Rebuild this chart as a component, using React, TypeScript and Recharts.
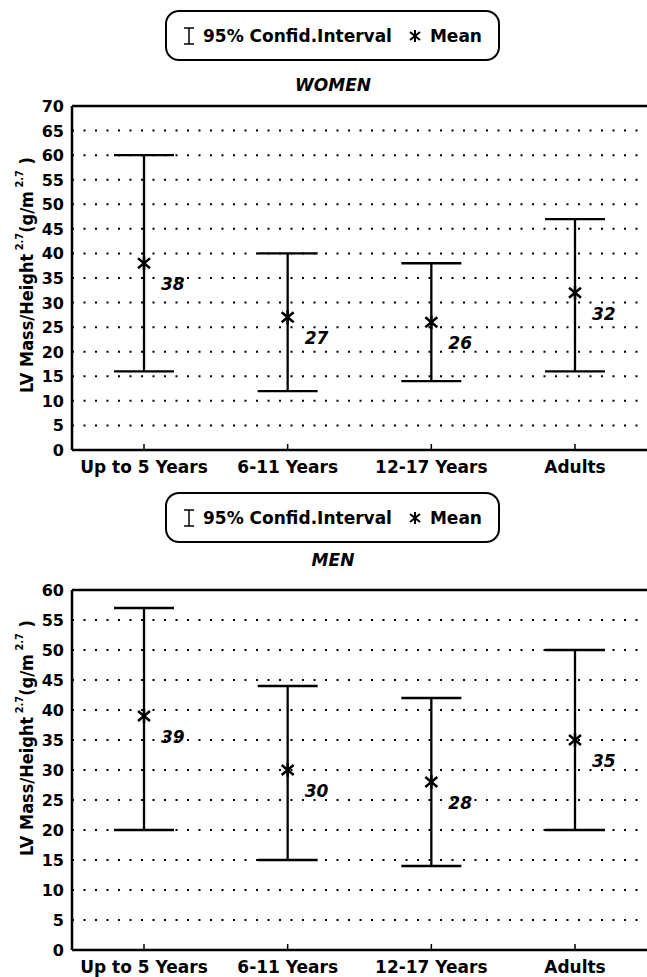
import React from "react";
import {
  ComposedChart,
  Scatter,
  ErrorBar,
  XAxis,
  YAxis,
  CartesianGrid,
  ReferenceLine,
} from "recharts";

const categories = ["Up to 5 Years", "6-11 Years", "12-17 Years", "Adults"];

const womenMean = [38, 27, 26, 32];
const womenLow = [16, 12, 14, 16];
const womenHigh = [60, 40, 38, 47];

const menMean = [39, 30, 28, 35];
const menLow = [20, 15, 14, 20];
const menHigh = [57, 44, 42, 50];

const womenTicks = [0, 5, 10, 15, 20, 25, 30, 35, 40, 45, 50, 55, 60, 65, 70];
const menTicks = [0, 5, 10, 15, 20, 25, 30, 35, 40, 45, 50, 55, 60];

const FONT = "'DejaVu Sans', 'Liberation Sans', Arial, sans-serif";

const buildRows = (mean: number[], low: number[], high: number[]) =>
  categories.map((name, i) => ({
    name,
    mean: mean[i],
    err: [mean[i] - low[i], high[i] - mean[i]],
  }));

const womenRows = buildRows(womenMean, womenLow, womenHigh);
const menRows = buildRows(menMean, menLow, menHigh);

// asterisk marker + italic value next to it
const MeanMark = (props: any) => {
  const { cx, cy, payload } = props;
  if (cx == null || cy == null) return null;
  return (
    <g>
      <g stroke="#000" strokeWidth={2.5}>
        <line x1={cx} y1={cy - 7} x2={cx} y2={cy + 7} />
        <line x1={cx - 6} y1={cy - 5} x2={cx + 6} y2={cy + 5} />
        <line x1={cx - 6} y1={cy + 5} x2={cx + 6} y2={cy - 5} />
      </g>
      <text
        x={cx + 17}
        y={cy + 27}
        fontFamily={FONT}
        fontWeight="bold"
        fontStyle="italic"
        fontSize={17}
        fill="#000"
      >
        {payload.mean}
      </text>
    </g>
  );
};

const CatTick = (props: any) => {
  const { x, y, payload } = props;
  return (
    <g>
      <line x1={x} y1={y} x2={x} y2={y - 6} stroke="#000" strokeWidth={1.5} />
      <text
        x={x}
        y={y + 23}
        textAnchor="middle"
        fontFamily={FONT}
        fontWeight="bold"
        fontSize={17}
        fill="#000"
      >
        {payload.value}
      </text>
    </g>
  );
};

const ValTick = (props: any) => {
  const { x, y, payload } = props;
  return (
    <text
      x={x}
      y={y + 6}
      textAnchor="end"
      fontFamily={FONT}
      fontWeight="bold"
      fontSize={16}
      fill="#000"
    >
      {payload.value}
    </text>
  );
};

const axisTitle = (cy: number) => (props: any) => {
  const { viewBox } = props;
  const x = viewBox.x + 33;
  return (
    <text
      x={x}
      y={cy}
      transform={`rotate(-90, ${x}, ${cy})`}
      textAnchor="middle"
      fontFamily="'DejaVu Sans Condensed', 'DejaVu Sans', sans-serif"
      fontWeight="bold"
      fontSize={18}
      fill="#000"
    >
      LV Mass/Height
      <tspan fontSize={11} dy={-10}> 2.7</tspan>
      <tspan dy={10}>(g/m</tspan>
      <tspan fontSize={11} dy={-10}> 2.7</tspan>
      <tspan dy={10}> )</tspan>
    </text>
  );
};

const LegendBox = ({ top }: { top: number }) => (
  <div
    style={{
      position: "absolute",
      left: 165,
      top,
      width: 335,
      height: 51,
      border: "2px solid #000",
      borderRadius: 14,
      boxSizing: "border-box",
      display: "flex",
      alignItems: "center",
      justifyContent: "center",
      fontFamily: FONT,
      fontWeight: "bold",
      fontSize: 17,
      color: "#000",
    }}
  >
    <svg width={12} height={20} style={{ marginRight: 8 }}>
      <g stroke="#000" strokeWidth={1.5}>
        <line x1={6} y1={2} x2={6} y2={18} />
        <line x1={1} y1={2} x2={11} y2={2} />
        <line x1={1} y1={18} x2={11} y2={18} />
      </g>
    </svg>
    <span>95% Confid.Interval</span>
    <svg width={14} height={14} style={{ marginLeft: 16, marginRight: 8 }}>
      <g stroke="#000" strokeWidth={2}>
        <line x1={7} y1={1} x2={7} y2={13} />
        <line x1={2} y1={3} x2={12} y2={11} />
        <line x1={2} y1={11} x2={12} y2={3} />
      </g>
    </svg>
    <span>Mean</span>
  </div>
);

const Title = ({ top, text }: { top: number; text: string }) => (
  <div
    style={{
      position: "absolute",
      left: 0,
      width: 666,
      top,
      textAlign: "center",
      fontFamily: FONT,
      fontWeight: "bold",
      fontStyle: "italic",
      fontSize: 17,
      lineHeight: "20px",
      color: "#000",
    }}
  >
    {text}
  </div>
);

const Panel = ({
  rows,
  ticks,
  max,
  height,
  marginTop,
  titleCy,
}: {
  rows: any[];
  ticks: number[];
  max: number;
  height: number;
  marginTop: number;
  titleCy: number;
}) => (
  <ComposedChart
    width={647}
    height={height}
    data={rows}
    margin={{ top: marginTop, right: 0, bottom: 0, left: 0 }}
  >
    <CartesianGrid
      horizontal
      vertical={false}
      stroke="#000"
      strokeWidth={2}
      strokeDasharray="2 9.5"
    />
    <XAxis
      dataKey="name"
      type="category"
      height={30}
      padding={{ left: 72, right: 72 }}
      tickSize={0}
      tickMargin={0}
      axisLine={{ stroke: "#000", strokeWidth: 2.5 }}
      tickLine={false}
      tick={<CatTick />}
      interval={0}
    />
    <YAxis
      type="number"
      domain={[0, max]}
      ticks={ticks}
      interval={0}
      width={72}
      tickSize={0}
      tickMargin={8}
      axisLine={{ stroke: "#000", strokeWidth: 2.5 }}
      tickLine={false}
      tick={<ValTick />}
      label={{ content: axisTitle(titleCy) }}
    />
    <ReferenceLine y={max} stroke="#000" strokeWidth={2.5} />
    <Scatter dataKey="mean" shape={<MeanMark />} isAnimationActive={false}>
      <ErrorBar
        dataKey="err"
        direction="y"
        width={30}
        stroke="#000"
        strokeWidth={2.3}
        isAnimationActive={false}
      />
    </Scatter>
  </ComposedChart>
);

export default function App() {
  return (
    <div
      style={{
        position: "absolute",
        left: 0,
        top: 0,
        width: 647,
        height: 977,
        background: "#fff",
        overflow: "hidden",
      }}
    >
      <LegendBox top={10} />
      <Title top={75} text="WOMEN" />
      <div style={{ position: "absolute", left: 0, top: 0 }}>
        <Panel
          rows={womenRows}
          ticks={womenTicks}
          max={70}
          height={480}
          marginTop={106}
          titleCy={275}
        />
      </div>
      <LegendBox top={492} />
      <Title top={550} text="MEN" />
      <div style={{ position: "absolute", left: 0, top: 500 }}>
        <Panel
          rows={menRows}
          ticks={menTicks}
          max={60}
          height={480}
          marginTop={90}
          titleCy={238}
        />
      </div>
    </div>
  );
}
